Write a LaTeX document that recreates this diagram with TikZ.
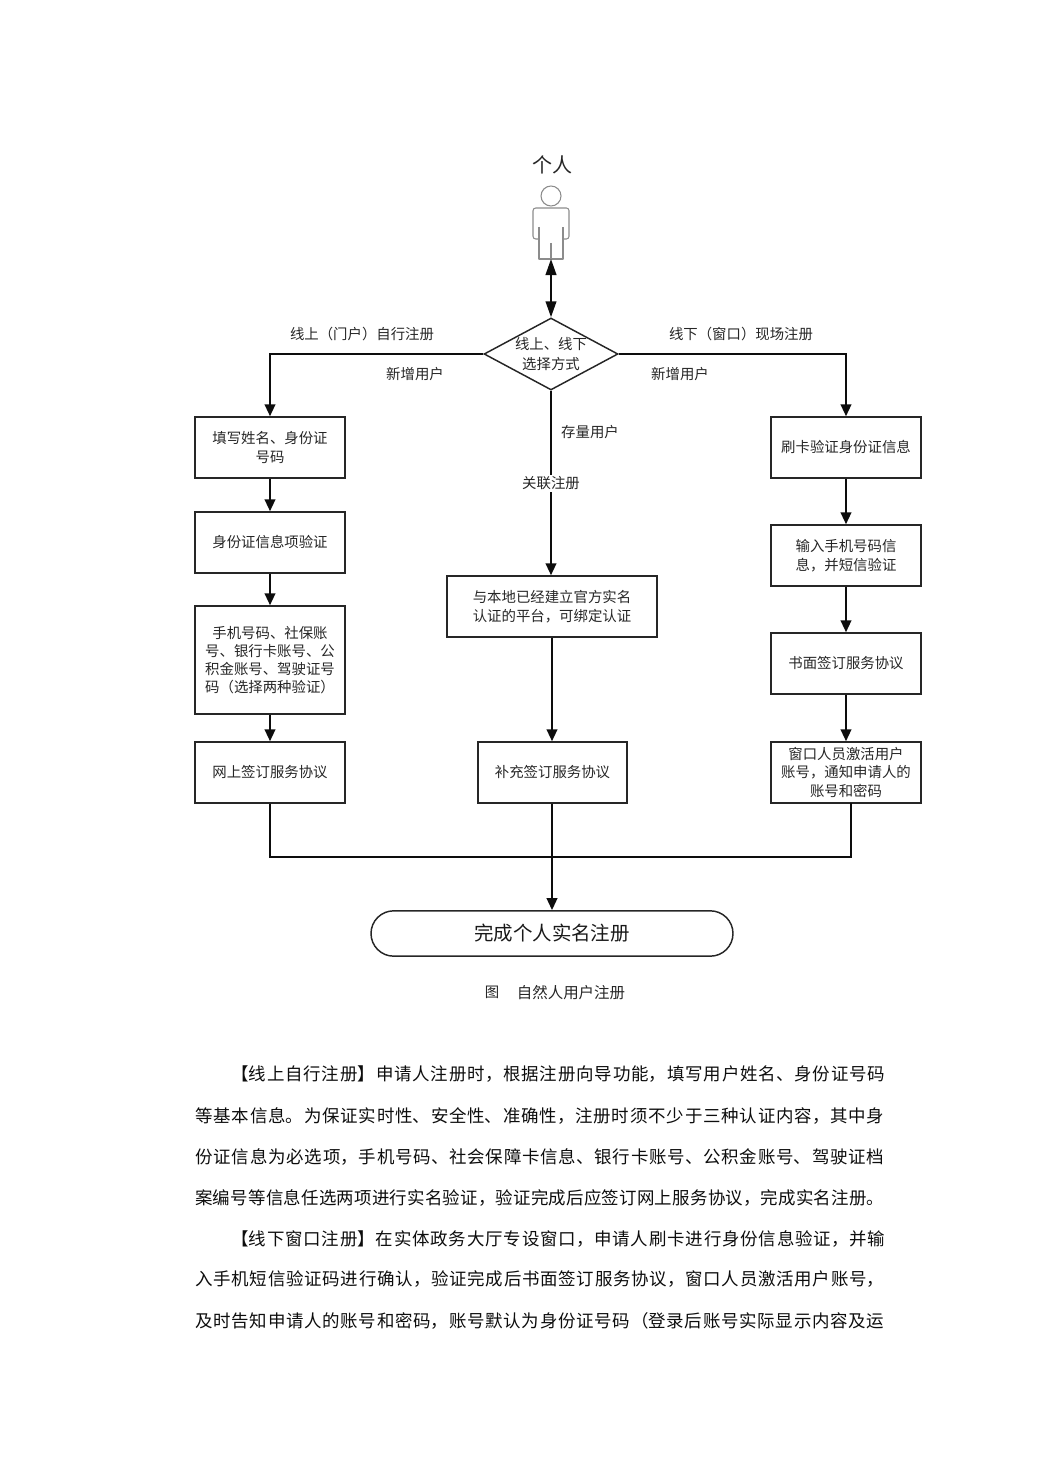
\documentclass[tikz,border=0pt]{standalone}
\usepackage{fontspec}
\setmainfont{Noto Sans CJK SC}[BoldFont={Noto Sans CJK SC}]
\usetikzlibrary{arrows.meta,shapes.geometric,positioning}
\XeTeXlinebreaklocale "zh"
\XeTeXlinebreakskip=0pt plus 6pt
\newcommand{\smalltext}{\fontsize{10.8pt}{14pt}\selectfont}
\newcommand{\bodytext}{\fontsize{13.1pt}{16pt}\selectfont}
\tikzset{
  flowbox/.style={draw=black!85,line width=1.1pt,rectangle,inner sep=0pt,align=center,
    text=black!85,font=\smalltext},
  sidebox/.style={flowbox,minimum width=112.5pt},
  decision/.style={draw=black!85,line width=1.1pt,diamond,shape aspect=1.86,inner sep=0pt,
    minimum width=100.5pt,minimum height=54pt},
  terminal/.style={draw=black!85,line width=1.1pt,rounded corners=17pt,minimum width=271.5pt,
    minimum height=34pt,inner sep=0pt,text=black!90,font=\fontsize{14.6pt}{18pt}\selectfont},
  lbl/.style={inner sep=1pt,text=black!85,font=\smalltext},
  link/.style={draw=black!95,line width=1.5pt,-{Triangle[length=9pt,width=8pt]}},
  plainlink/.style={draw=black!95,line width=1.5pt},
  figure part/.style={draw=black!45,line width=0.8pt,line join=round},
  para/.style={inner sep=0pt,anchor=west,text=black!95,font=\bodytext,
    execute at begin node={\parfillskip=0pt\hbadness=10000\hfuzz=20pt\rightskip=0pt\leftskip=0pt}},
}
\begin{document}
\begin{tikzpicture}[x=0.75pt,y=-0.75pt]
\useasboundingbox (0,0) rectangle (1042,1473);

% Person figure
\node[lbl,font=\fontsize{15pt}{18pt}\selectfont] (who) at (552,165) {个人};
\draw[figure part] (551,196) circle (10);
\draw[figure part,rounded corners=2pt] (539,239) -- (533,239) -- (533,208) -- (569,208) -- (569,239) -- (563,239);
\draw[figure part] (539,227) -- (539,259) -- (563,259) -- (563,227);
\draw[figure part] (551,243) -- (551,259);
\coordinate (personfoot) at (551,259);

% Decision
\node[decision] (choice) at (551,354) {};
\node[lbl,align=center] (choicetext) at (551,354.5) {线上、线下\\[1pt]选择方式};

% Online column
\node[sidebox,minimum height=45.75pt] (a1) at (270,447.5) {填写姓名、身份证\\号码};
\node[sidebox,minimum height=45.75pt] (a2) at (270,542.5) {身份证信息项验证};
\node[sidebox,minimum height=81pt,font=\fontsize{10.8pt}{13.5pt}\selectfont] (a3) at (270,660) {手机号码、社保账\\号、银行卡账号、公\\积金账号、驾驶证号\\码（选择两种验证）};
\node[sidebox,minimum height=45.75pt] (a4) at (270,772.5) {网上签订服务协议};

% Existing-user column
\node[flowbox,minimum width=157.5pt,minimum height=45.75pt] (b1) at (552,606.5) {与本地已经建立官方实名\\认证的平台，可绑定认证};
\node[flowbox,minimum width=111.75pt,minimum height=45.75pt] (b2) at (552.5,772.5) {补充签订服务协议};

% Counter column
\node[sidebox,minimum height=45.75pt] (c1) at (846,447.5) {刷卡验证身份证信息};
\node[sidebox,minimum height=45.75pt] (c2) at (846,555.5) {输入手机号码信\\息，并短信验证};
\node[sidebox,minimum height=45.75pt] (c3) at (846,663.5) {书面签订服务协议};
\node[sidebox,minimum height=45.75pt] (c4) at (846,772.5) {窗口人员激活用户\\账号，通知申请人的\\账号和密码};

% End state
\node[terminal] (done) at (552,933.5) {完成个人实名注册};

% Helper points for the merge line
\coordinate (c4out) at (851,803);
\coordinate (mergeR) at (851,857);
\coordinate (mergeL) at (270,857);
\coordinate (mergeM) at (552,857);

% Connectors
\draw[plainlink,{Triangle[length=12pt,width=8pt]}-{Triangle[length=12pt,width=8pt]}] (personfoot) -- (choice.north);
\draw[link] (choice.west) -| (a1.north);
\draw[link] (choice.east) -| (c1.north);
\draw[link] (choice.south) -- (choice.south |- b1.north);
\draw[link] (a1) -- (a2);
\draw[link] (a2) -- (a3);
\draw[link] (a3) -- (a4);
\draw[link] (b1.south) -- (b1.south |- b2.north);
\draw[link] (c1) -- (c2);
\draw[link] (c2) -- (c3);
\draw[link] (c3) -- (c4);
\draw[plainlink] (a4.south) -- (mergeL) -- (mergeR) -- (c4out);
\draw[link] (b2.south -| mergeM) -- (mergeM |- done.north);

% Connector labels
\node[lbl] (l1) at (362,334.5) {线上（门户）自行注册};
\node[lbl] (l2) at (741,334.5) {线下（窗口）现场注册};
\node[lbl] (l3) at (415,374.5) {新增用户};
\node[lbl] (l4) at (680,374.5) {新增用户};
\node[lbl] (l5) at (590,432.5) {存量用户};
\node[lbl,fill=white] (l6) at (551,483.5) {关联注册};

% Caption
\node[lbl] (cap1) at (492,992.5) {图};
\node[lbl,font=\fontsize{11.6pt}{14pt}\selectfont] (cap2) at (571,992.5) {自然人用户注册};

% Body text, one node per printed line
\node[para,text width=490.5pt] (p1) at (231,1074.5) {【线上自行注册】申请人注册时，根据注册向导功能，填写用户姓名、身份证号码};
\node[para,text width=516.75pt] (p2) at (195,1115.5) {等基本信息。为保证实时性、安全性、准确性，注册时须不少于三种认证内容，其中身};
\node[para,text width=516.75pt] (p3) at (195,1156.5) {份证信息为必选项，手机号码、社会保障卡信息、银行卡账号、公积金账号、驾驶证档};
\node[para,text width=516.75pt] (p4) at (195,1197.5) {案编号等信息任选两项进行实名验证，验证完成后应签订网上服务协议，完成实名注册。};
\node[para,text width=490.5pt] (p5) at (231,1238.5) {【线下窗口注册】在实体政务大厅专设窗口，申请人刷卡进行身份信息验证，并输};
\node[para,text width=516.75pt] (p6) at (195,1279.5) {入手机短信验证码进行确认，验证完成后书面签订服务协议，窗口人员激活用户账号，};
\node[para,text width=516.75pt] (p7) at (195,1320.5) {及时告知申请人的账号和密码，账号默认为身份证号码（登录后账号实际显示内容及运};
\end{tikzpicture}
\end{document}
